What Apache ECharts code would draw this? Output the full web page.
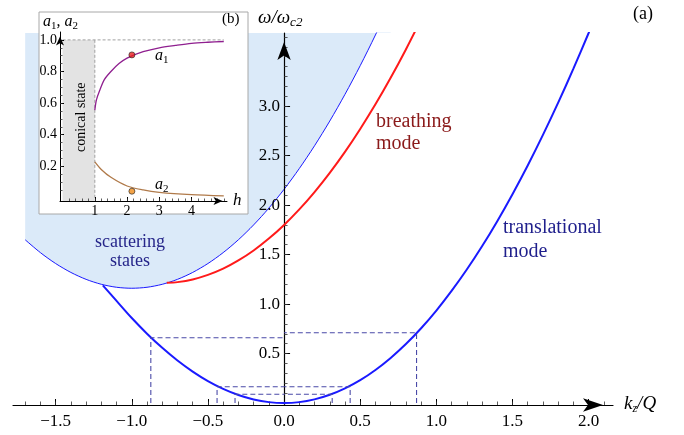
<!DOCTYPE html>
<html>
<head>
<meta charset="utf-8">
<script src="https://cdn.jsdelivr.net/npm/echarts@6/dist/echarts.min.js"></script>
<style>
html, body { margin: 0; padding: 0; background: #fff; }
#chart { width: 684px; height: 435px; }
</style>
</head>
<body>
<div id="chart"></div>
<script>
// panel (a): dispersion curves, omega/omega_c2 vs k_z/Q
const scatK = [-1.70, -1.6, -1.5, -1.4, -1.3, -1.2, -1.1, -1.0, -0.9, -0.8, -0.7, -0.6, -0.5, -0.4, -0.3, -0.2, -0.1, 0.0, 0.1, 0.2, 0.3, 0.4, 0.5, 0.6, 0.7]
const scatW = [1.65, 1.52, 1.41, 1.32, 1.25, 1.20, 1.17, 1.16, 1.17, 1.20, 1.25, 1.32, 1.41, 1.52, 1.65, 1.80, 1.97, 2.16, 2.37, 2.60, 2.85, 3.12, 3.41, 3.72, 4.05]

const breathK = [-0.77, -0.7, -0.6, -0.5, -0.4, -0.3, -0.2, -0.1, 0.0, 0.1, 0.2, 0.3, 0.4, 0.5, 0.6, 0.7, 0.8, 0.9]
const breathW = [1.215, 1.222, 1.249, 1.295, 1.358, 1.441, 1.542, 1.662, 1.80, 1.957, 2.132, 2.326, 2.538, 2.770, 3.019, 3.287, 3.574, 3.879]

const transK = [-1.19, -1.1, -1.0, -0.9, -0.8, -0.7, -0.6, -0.5, -0.4, -0.3, -0.2, -0.1, 0.0, 0.1, 0.2, 0.3, 0.4, 0.5, 0.6, 0.7, 0.8, 0.9, 1.0, 1.1, 1.2, 1.3, 1.4, 1.5, 1.6, 1.7, 1.8, 1.9, 2.0, 2.06]
const transW = [1.19, 1.032, 0.859, 0.701, 0.558, 0.430, 0.318, 0.222, 0.143, 0.081, 0.036, 0.009, 0.0, 0.009, 0.037, 0.083, 0.148, 0.231, 0.334, 0.456, 0.596, 0.756, 0.935, 1.133, 1.349, 1.584, 1.838, 2.111, 2.401, 2.710, 3.036, 3.379, 3.74, 3.965]

// dashed guide points on the translational curve
const crossK = [-0.875, 0.87, -0.44, 0.434, -0.322, 0.316]
const crossW = [0.66, 0.71, 0.165, 0.165, 0.088, 0.088]

const xMajor = [-1.5, -1.0, -0.5, 0.0, 0.5, 1.0, 1.5, 2.0]
const yMajor = [0.5, 1.0, 1.5, 2.0, 2.5, 3.0]

// panel (b): a1, a2 vs h
const a1H = [1, 1.05, 1.15, 1.3, 1.5, 1.75, 2, 2.5, 3, 3.5, 4, 4.5, 5]
const a1V = [0.555, 0.62, 0.68, 0.75, 0.80, 0.85, 0.885, 0.925, 0.95, 0.965, 0.978, 0.985, 0.99]
const a2H = [1, 1.2, 1.5, 2, 2.5, 3, 4, 5]
const a2V = [0.228, 0.18, 0.13, 0.075, 0.05, 0.035, 0.02, 0.012]
const dotH = [2.15, 2.15]
const dotV = [0.905, 0.042]
const conicalH = [0, 1]
const conicalV = [1, 1]

const hMajor = [1, 2, 3, 4]
const aMajor = [0.2, 0.4, 0.6, 0.8, 1.0]

function zip(a, b){
    return a.map((v, i) => [v, b[i]])
}
function steps(from, to, step){
    let out = []
    for(let v = from; v <= to + 1e-9; v += step)
        out.push(Math.round(v * 1000) / 1000)
    return out
}

const serif = '"Liberation Serif", "DejaVu Serif", serif'
const fmt1 = v => (v < 0 ? '\u2212' : '') + Math.abs(v).toFixed(1)

// main panel geometry
const kMin = -1.78, kMax = 2.16, wMin = -0.02, wMax = 3.74
const gLeft = 13, gTop = 33, gWidth = 600, gHeight = 372
const zeroX = gLeft + (0 - kMin) / (kMax - kMin) * gWidth

function axisBase(grid, min, max, z){
    return {type: 'value', gridIndex: grid, min: min, max: max, z: z, splitLine: {show: false}}
}
function majorAxis(grid, min, max, ticks, fmt, labelSize, tickLen, margin, arrow, z, lineWidth){
    return Object.assign(axisBase(grid, min, max, z), {
        axisLine: {
            onZero: false,
            symbol: ['none', 'arrow'], symbolSize: arrow, symbolOffset: [0, -arrow[1] / 2],
            lineStyle: {color: '#000', width: lineWidth}
        },
        axisTick: {customValues: ticks, inside: true, length: tickLen, lineStyle: {color: '#000', width: 1}},
        axisLabel: {customValues: ticks, formatter: fmt, fontFamily: serif, fontSize: labelSize, color: '#000', margin: margin}
    })
}
function minorAxis(grid, min, max, ticks, tickLen, z){
    return Object.assign(axisBase(grid, min, max, z), {
        axisLine: {show: false, onZero: false},
        axisTick: {customValues: ticks, inside: true, length: tickLen, lineStyle: {color: '#333', width: 0.8}},
        axisLabel: {show: false}
    })
}
function hiddenAxis(grid, min, max){
    return Object.assign(axisBase(grid, min, max, 0), {
        show: false, axisLine: {show: false, onZero: false}, axisTick: {show: false}, axisLabel: {show: false}
    })
}

let xAxes = [
    majorAxis(0, kMin, kMax, xMajor, fmt1, 17, 6, 8, [10, 20], 3, 1.2),
    minorAxis(0, kMin, kMax, steps(-1.7, 2.1, 0.1), 3.5, 3),
    majorAxis(1, -0.08, 5.1, hMajor, v => String(v), 14, 4, 3, [6, 9], 12, 1),
    minorAxis(1, -0.08, 5.1, steps(0.2, 5.0, 0.2), 2.5, 12),
    hiddenAxis(2, 0, 1)
]
let yAxes = [
    hiddenAxis(0, wMin, wMax),
    majorAxis(1, -0.02, 1.05, aMajor, v => v.toFixed(1), 14, 4, 3, [6, 9], 12, 1),
    minorAxis(1, -0.02, 1.05, steps(0.05, 1.0, 0.05), 2.5, 12),
    // the omega axis is drawn in its own grid whose left edge sits on k = 0
    majorAxis(2, wMin, wMax, yMajor, fmt1, 17, 6, 4, [10, 18], 3, 1.2),
    minorAxis(2, wMin, wMax, steps(0.1, 3.7, 0.1), 3.5, 3)
]
xAxes[1].position = 'bottom'
xAxes[3].position = 'bottom'
yAxes[2].position = 'left'
yAxes[4].position = 'left'

let series = [
    {
        name: 'scattering', type: 'line', xAxisIndex: 0, yAxisIndex: 0, z: 2,
        data: zip(scatK, scatW), smooth: 0.3, showSymbol: false, silent: true,
        lineStyle: {color: '#1a1aff', width: 1},
        areaStyle: {color: '#dbeaf9', opacity: 1, origin: 'end'}
    },
    {
        name: 'breathing', type: 'line', xAxisIndex: 0, yAxisIndex: 0, z: 3,
        data: zip(breathK, breathW), smooth: 0.3, showSymbol: false,
        lineStyle: {color: '#ff1a1a', width: 2}
    },
    {
        name: 'translational', type: 'line', xAxisIndex: 0, yAxisIndex: 0, z: 3,
        data: zip(transK, transW), smooth: 0.3, showSymbol: false,
        lineStyle: {color: '#1a1aff', width: 2}
    }
]
crossK.forEach((k, i) => {
    series.push({
        type: 'line', xAxisIndex: 0, yAxisIndex: 0, z: 3,
        data: [[k, 0], [k, crossW[i]], [0, crossW[i]]],
        showSymbol: false,
        lineStyle: {color: '#4a4aa8', width: 1.1, type: [5, 3]}
    })
})
series.push(
    {
        type: 'line', xAxisIndex: 2, yAxisIndex: 1, z: 10,
        data: zip(conicalH, conicalV), showSymbol: false,
        lineStyle: {width: 0},
        areaStyle: {color: '#e3e3e3', opacity: 1, origin: 'start'}
    },
    {
        type: 'line', xAxisIndex: 2, yAxisIndex: 1, z: 11,
        data: [[0, 1], [5, 1]], showSymbol: false,
        lineStyle: {color: '#a0a0a0', width: 1, type: [3, 2]}
    },
    {
        type: 'line', xAxisIndex: 2, yAxisIndex: 1, z: 11,
        data: [[1, 0], [1, 1]], showSymbol: false,
        lineStyle: {color: '#a0a0a0', width: 1, type: [3, 2]}
    },
    {
        type: 'line', xAxisIndex: 2, yAxisIndex: 1, z: 12,
        data: zip(a1H, a1V), smooth: 0.3, showSymbol: false,
        lineStyle: {color: '#8f1f8f', width: 1.3}
    },
    {
        type: 'line', xAxisIndex: 2, yAxisIndex: 1, z: 12,
        data: zip(a2H, a2V), smooth: 0.3, showSymbol: false,
        lineStyle: {color: '#b07a4a', width: 1.3}
    },
    {
        type: 'scatter', xAxisIndex: 2, yAxisIndex: 1, z: 13,
        data: zip(dotH, dotV), symbolSize: 6,
        itemStyle: {color: p => p.dataIndex === 0 ? '#e8201f' : '#f08c1a', borderColor: '#222', borderWidth: 0.8}
    }
)

function label(x, y, text, rich, extra){
    return {
        type: 'text', x: x, y: y, z: 30,
        style: Object.assign({text: text, rich: rich, fontFamily: serif}, extra || {})
    }
}

const mathRich = (size, sub) => ({
    i: {fontFamily: serif, fontStyle: 'italic', fontSize: size, lineHeight: size + 4, color: '#000'},
    n: {fontFamily: serif, fontSize: size, lineHeight: size + 4, color: '#000'},
    s: {fontFamily: serif, fontStyle: 'italic', fontSize: sub, lineHeight: sub + 1, verticalAlign: 'bottom', color: '#000'},
    u: {fontFamily: serif, fontSize: sub, lineHeight: sub + 1, verticalAlign: 'bottom', color: '#000'}
})

const option = {
    animation: false,
    backgroundColor: '#fff',
    grid: [
        {left: gLeft, top: gTop, width: gWidth, height: gHeight, outerBoundsMode: 'none', containLabel: false},
        {left: 60, top: 32, width: 167, height: 169, z: 10, outerBoundsMode: 'none', containLabel: false},
        {left: zeroX, top: gTop, width: 200, height: gHeight, outerBoundsMode: 'none', containLabel: false}
    ],
    xAxis: xAxes,
    yAxis: yAxes,
    series: series,
    graphic: [
        {type: 'rect', z: 5, shape: {x: 39, y: 12, width: 209, height: 202},
            style: {fill: '#fff', stroke: '#a8a8a8', lineWidth: 1}},
        label(258, 6, '{i|\u03c9/\u03c9}{s|c2}', mathRich(19, 13)),
        label(633, 5, '(a)', null, {fontSize: 18, fill: '#000'}),
        label(624, 392, '{i|k}{s|z}{i|/Q}', mathRich(19, 12)),
        label(376, 111, 'breathing\nmode', null, {fontSize: 20, lineHeight: 22, fill: '#8b1a1a'}),
        label(503, 216, 'translational\nmode', null, {fontSize: 20, lineHeight: 24, fill: '#1f1f8c'}),
        label(130, 233, 'scattering\nstates', null, {fontSize: 18, lineHeight: 19, fill: '#26268a', align: 'center', textAlign: 'center'}),
        {type: 'text', x: 74, y: 152, rotation: Math.PI / 2, z: 30,
            style: {text: 'conical state', fontFamily: serif, fontSize: 14, fill: '#000'}},
        label(155, 46, '{i|a}{u|1}', mathRich(16, 11)),
        label(155, 175, '{i|a}{u|2}', mathRich(16, 11)),
        label(43, 12, '{i|a}{u|1}{n|, }{i|a}{u|2}', mathRich(16, 11)),
        label(222, 12, '(b)', null, {fontSize: 15, fill: '#000'}),
        label(233, 190, '{i|h}', mathRich(17, 11))
    ]
}

let chartDom = echarts.init(document.querySelector('#chart'))
chartDom.setOption(option)
</script>
</body>
</html>
